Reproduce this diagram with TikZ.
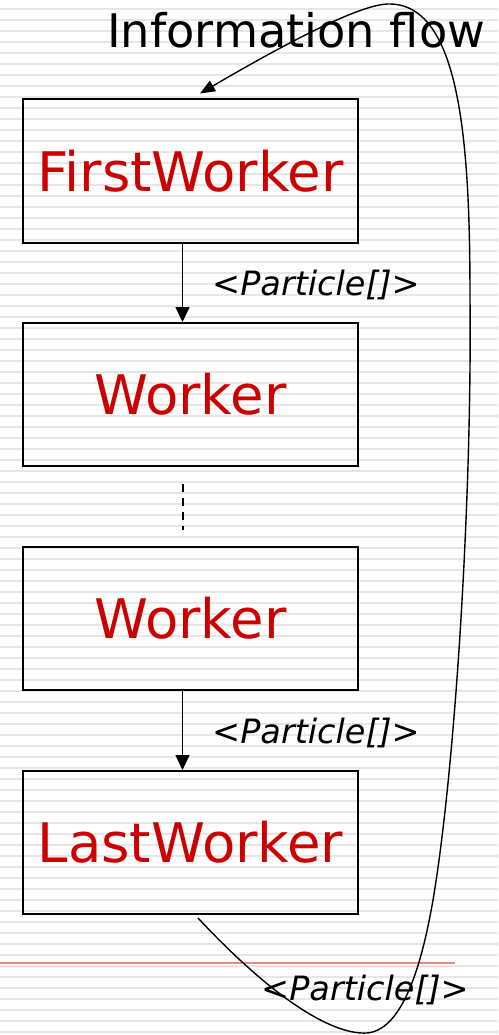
\documentclass[tikz,border=0pt]{standalone}
\usepackage{fontspec}
\setmainfont{DejaVu Sans}
\usetikzlibrary{arrows.meta,calc}
\definecolor{stripegray}{HTML}{E6E6E6}
\definecolor{rulered}{HTML}{E8897E}
\definecolor{workerred}{HTML}{CC0000}
\tikzset{
  worker/.style={draw, line width=2pt, minimum width=335pt, minimum height=143pt,
    inner sep=0pt, text=workerred, font=\fontsize{54.5}{62}\selectfont},
  flowarrow/.style={line width=1.6pt, -{Triangle[length=15pt,width=14pt]}},
  typelabel/.style={anchor=base west, inner sep=0pt, font=\fontsize{33.5}{40}\selectfont\itshape},
  loopback/.style={line width=1.4pt, -{Triangle[length=15pt,width=12pt]}},
  gap/.style={line width=2pt, dash pattern=on 8pt off 6pt}
}
\begin{document}
\begin{tikzpicture}[x=1pt, y=-1pt]
\useasboundingbox (0,0) rectangle (498,1035);
% ruled background
\foreach \k in {0,...,93}
  \fill[stripegray] (0,{8+11*\k}) rectangle (498,{10.3+11*\k});
\fill[rulered] (0,961.8) rectangle (455,963.8);

% title
\node[anchor=base west, inner sep=0pt, font=\fontsize{46.3}{55}\selectfont] (title) at (107,48) {Information flow};

% worker chain
\node[worker] (b1) at (190.5,171) {FirstWorker};
\node[worker] (b2) at (190.5,394.5) {Worker};
\node[worker] (b3) at (190.5,618.5) {Worker};
\node[worker] (b4) at (190.5,842.5) {LastWorker};

\coordinate (ax) at (182.5,0);
\draw[flowarrow] (b1.south -| ax) -- (b2.north -| ax);
\draw[gap] ($(b2.south -| ax)+(0,17)$) -- ($(b3.north -| ax)+(0,-16)$);
\draw[flowarrow] (b3.south -| ax) -- (b4.north -| ax);

\node[typelabel] (l1) at (212,295) {<Particle[]>};
\node[typelabel] (l2) at (212,743) {<Particle[]>};
\node[typelabel] (l3) at (261,1000) {<Particle[]>};

% feedback loop from the last worker back to the first
\coordinate (ls) at ($(b4.south)+(7.5,3)$);
\coordinate (le) at ($(b1.north)+(9.5,-5)$);
\draw[loopback] (ls)
  .. controls (270,995) and (330,1035) .. (367,1033)
  .. controls (400,1030) and (420,975) .. (433,900)
  .. controls (455,770) and (472,500) .. (470,300)
  .. controls (470,150) and (462,5) .. (390,4)
  .. controls (365,3) and (300,35) .. (le);
\end{tikzpicture}
\end{document}
